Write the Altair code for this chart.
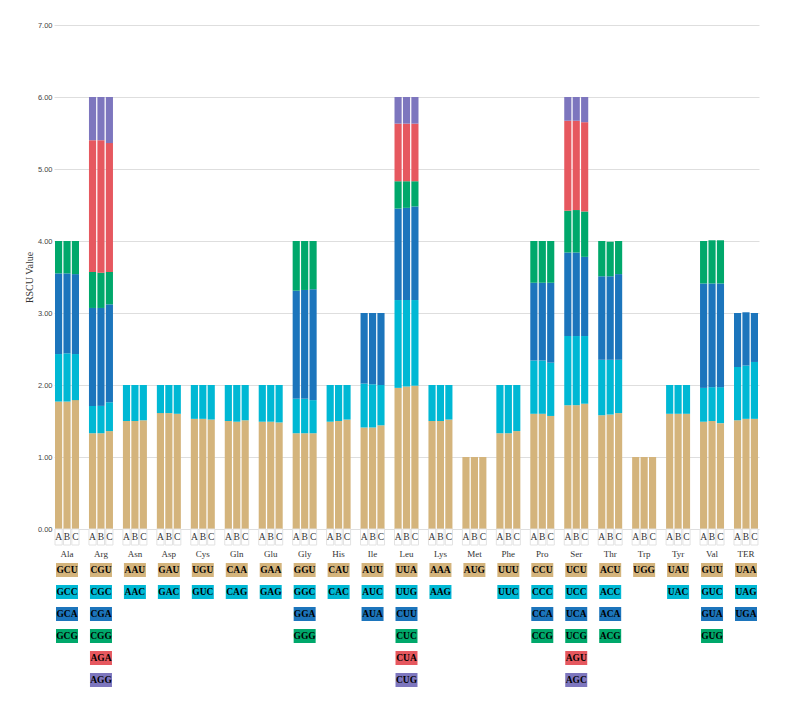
import altair as alt
import pandas as pd

amino_acids = ["Ala", "Arg", "Asn", "Asp", "Cys", "Gln", "Glu", "Gly", "His", "Ile", "Leu",
               "Lys", "Met", "Phe", "Pro", "Ser", "Thr", "Trp", "Tyr", "Val", "TER"]
samples = ["A", "B", "C"]

codons = {
    "Ala": ["GCU", "GCC", "GCA", "GCG"],
    "Arg": ["CGU", "CGC", "CGA", "CGG", "AGA", "AGG"],
    "Asn": ["AAU", "AAC"],
    "Asp": ["GAU", "GAC"],
    "Cys": ["UGU", "GUC"],
    "Gln": ["CAA", "CAG"],
    "Glu": ["GAA", "GAG"],
    "Gly": ["GGU", "GGC", "GGA", "GGG"],
    "His": ["CAU", "CAC"],
    "Ile": ["AUU", "AUC", "AUA"],
    "Leu": ["UUA", "UUG", "CUU", "CUC", "CUA", "CUG"],
    "Lys": ["AAA", "AAG"],
    "Met": ["AUG"],
    "Phe": ["UUU", "UUC"],
    "Pro": ["CCU", "CCC", "CCA", "CCG"],
    "Ser": ["UCU", "UCC", "UCA", "UCG", "AGU", "AGC"],
    "Thr": ["ACU", "ACC", "ACA", "ACG"],
    "Trp": ["UGG"],
    "Tyr": ["UAU", "UAC"],
    "Val": ["GUU", "GUC", "GUA", "GUG"],
    "TER": ["UAA", "UAG", "UGA"],
}

rscu_A = {
    "Ala": [1.77, 0.66, 1.12, 0.45],
    "Arg": [1.33, 0.38, 1.36, 0.50, 1.83, 0.60],
    "Asn": [1.50, 0.50],
    "Asp": [1.61, 0.39],
    "Cys": [1.53, 0.47],
    "Gln": [1.50, 0.50],
    "Glu": [1.49, 0.51],
    "Gly": [1.33, 0.48, 1.50, 0.69],
    "His": [1.49, 0.51],
    "Ile": [1.41, 0.61, 0.98],
    "Leu": [1.96, 1.22, 1.27, 0.38, 0.80, 0.37],
    "Lys": [1.50, 0.50],
    "Met": [1.00],
    "Phe": [1.33, 0.67],
    "Pro": [1.60, 0.74, 1.08, 0.58],
    "Ser": [1.72, 0.96, 1.16, 0.58, 1.25, 0.33],
    "Thr": [1.58, 0.77, 1.16, 0.49],
    "Trp": [1.00],
    "Tyr": [1.60, 0.40],
    "Val": [1.49, 0.47, 1.45, 0.59],
    "TER": [1.51, 0.74, 0.75],
}
rscu_B = {
    "Ala": [1.77, 0.67, 1.11, 0.45],
    "Arg": [1.33, 0.38, 1.36, 0.49, 1.84, 0.60],
    "Asn": [1.50, 0.50],
    "Asp": [1.61, 0.39],
    "Cys": [1.53, 0.47],
    "Gln": [1.49, 0.51],
    "Glu": [1.49, 0.51],
    "Gly": [1.33, 0.48, 1.51, 0.68],
    "His": [1.50, 0.50],
    "Ile": [1.41, 0.60, 0.99],
    "Leu": [1.98, 1.20, 1.28, 0.37, 0.80, 0.37],
    "Lys": [1.50, 0.50],
    "Met": [1.00],
    "Phe": [1.33, 0.67],
    "Pro": [1.60, 0.74, 1.08, 0.58],
    "Ser": [1.72, 0.96, 1.16, 0.59, 1.24, 0.33],
    "Thr": [1.59, 0.76, 1.16, 0.48],
    "Trp": [1.00],
    "Tyr": [1.60, 0.40],
    "Val": [1.50, 0.47, 1.44, 0.60],
    "TER": [1.53, 0.74, 0.74],
}
rscu_C = {
    "Ala": [1.79, 0.64, 1.11, 0.46],
    "Arg": [1.36, 0.40, 1.36, 0.45, 1.79, 0.64],
    "Asn": [1.51, 0.49],
    "Asp": [1.60, 0.40],
    "Cys": [1.52, 0.48],
    "Gln": [1.51, 0.49],
    "Glu": [1.48, 0.52],
    "Gly": [1.33, 0.46, 1.54, 0.67],
    "His": [1.52, 0.48],
    "Ile": [1.44, 0.56, 1.00],
    "Leu": [1.99, 1.19, 1.30, 0.35, 0.80, 0.37],
    "Lys": [1.52, 0.48],
    "Met": [1.00],
    "Phe": [1.36, 0.64],
    "Pro": [1.57, 0.74, 1.11, 0.58],
    "Ser": [1.74, 0.94, 1.10, 0.63, 1.24, 0.35],
    "Thr": [1.61, 0.74, 1.19, 0.46],
    "Trp": [1.00],
    "Tyr": [1.60, 0.40],
    "Val": [1.47, 0.50, 1.44, 0.60],
    "TER": [1.53, 0.79, 0.68],
}

pos_colors = ["#D4B47C", "#00B8D4", "#1C75BC", "#00A86B", "#E6585F", "#7D76BE"]
y_ticks = [0, 1, 2, 3, 4, 5, 6, 7]

# ---- tables built from the lists above ----
rows = []
for s, table in zip(samples, [rscu_A, rscu_B, rscu_C]):
    for aa in amino_acids:
        for i, (cod, v) in enumerate(zip(codons[aa], table[aa])):
            rows.append(dict(aa=aa, sample=s, pos=i + 1, codon=cod, value=v))
df = pd.DataFrame(rows)

ldf = pd.DataFrame([dict(aa=aa, pos=i + 1, codon=c)
                    for aa in amino_acids for i, c in enumerate(codons[aa])])
abc = pd.DataFrame([dict(aa=aa, sample=s) for aa in amino_acids for s in samples])

W = 705
SERIF = "Liberation Serif"


def xscale():
    return alt.Scale(domain=amino_acids, paddingInner=0.293, paddingOuter=0.03)


def offscale(pad=0.15):
    return alt.Scale(domain=samples, paddingInner=pad)


color = alt.Color("pos:O", scale=alt.Scale(domain=[1, 2, 3, 4, 5, 6], range=pos_colors),
                  legend=None)

bars = alt.Chart(df).transform_stack(
    stack="value", groupby=["aa", "sample"], as_=["y0", "y1"],
    sort=[alt.SortField("pos", order="ascending")]
).mark_bar().encode(
    x=alt.X("aa:N", scale=xscale(), axis=None, sort=amino_acids),
    xOffset=alt.XOffset("sample:N", scale=offscale()),
    y=alt.Y("y1:Q", scale=alt.Scale(domain=[0, 7], nice=False),
            axis=alt.Axis(values=y_ticks, format=".2f", title="RSCU Value",
                          ticks=False, domain=False, grid=True, gridColor="#dedede",
                          labelFont="Liberation Sans", labelFontSize=7.5, labelColor="#444",
                          labelPadding=2, titleFont=SERIF, titleFontSize=10,
                          titleFontWeight="normal", titleColor="#333", titlePadding=3)),
    y2="y0:Q",
    color=color,
).properties(width=W, height=504)

name_axis = alt.Axis(orient="bottom", title=None, ticks=False, domain=False, labelAngle=0,
                     labelFont=SERIF, labelFontSize=9, labelColor="#333", labelPadding=4,
                     grid=False)

abc_cells = alt.Chart(abc).mark_rect(fill="white", stroke="#e2e2e2", strokeWidth=1).encode(
    x=alt.X("aa:N", scale=xscale(), axis=name_axis, sort=amino_acids),
    xOffset=alt.XOffset("sample:N", scale=offscale(0)),
)
abc_text = alt.Chart(abc).mark_text(font=SERIF, fontSize=9.5, color="#333").encode(
    x=alt.X("aa:N", scale=xscale(), axis=name_axis, sort=amino_acids),
    xOffset=alt.XOffset("sample:N", scale=offscale(0)),
    text="sample:N",
)
abc_chart = alt.layer(abc_cells, abc_text).properties(width=W, height=16)

ypos = alt.Y("pos:O", scale=alt.Scale(domain=[1, 2, 3, 4, 5, 6], paddingInner=0, paddingOuter=0),
             axis=None)
boxes = alt.Chart(ldf).mark_rect(width=22, height=14).encode(
    x=alt.X("aa:N", scale=xscale(), axis=None, sort=amino_acids),
    y=ypos,
    color=color,
)
box_labels = alt.Chart(ldf).mark_text(font=SERIF, fontSize=9.5, fontWeight="bold",
                                      color="black").encode(
    x=alt.X("aa:N", scale=xscale(), axis=None, sort=amino_acids),
    y=ypos,
    text="codon:N",
)
codon_chart = alt.layer(boxes, box_labels).properties(width=W, height=132)

lower = alt.vconcat(abc_chart, codon_chart, spacing=14, bounds="flush").resolve_scale(
    x="independent", y="independent")

chart = alt.vconcat(bars, lower, spacing=0, bounds="flush").resolve_scale(
    x="independent", y="independent"
).properties(
    padding={"left": 16, "top": 13, "right": 5, "bottom": 5}
).configure_view(stroke=None)

chart.save("out.html", embed_options={"renderer": "svg", "actions": False})
